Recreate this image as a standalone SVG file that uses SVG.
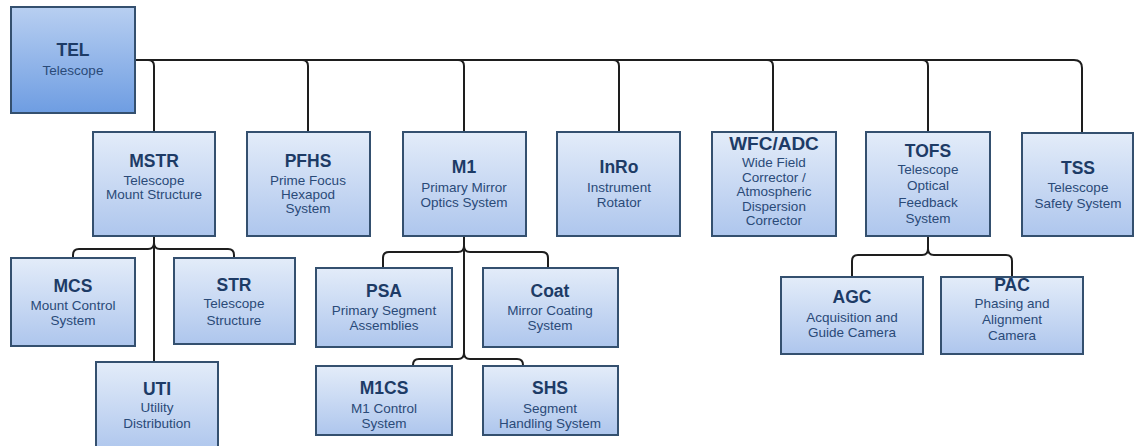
<svg xmlns="http://www.w3.org/2000/svg" width="1134" height="446" viewBox="0 0 1134 446">
<defs>
<linearGradient id="gNode" x1="0" y1="0" x2="0" y2="1">
<stop offset="0" stop-color="#e3ecf9"/>
<stop offset="1" stop-color="#aec6ed"/>
</linearGradient>
<linearGradient id="gRoot" x1="0" y1="0" x2="0" y2="1">
<stop offset="0" stop-color="#b8cff1"/>
<stop offset="1" stop-color="#6e9de2"/>
</linearGradient>
</defs>
<style>
.box{fill:url(#gNode);stroke:#34506f;stroke-width:2}
.root{fill:url(#gRoot);stroke:#34506f;stroke-width:2}
.t{font-family:"Liberation Sans",Arial,sans-serif;font-weight:bold;font-size:17.5px;fill:#1d3b66;text-anchor:middle}
.s{font-family:"Liberation Sans",Arial,sans-serif;font-size:13.5px;fill:#2a4a78;text-anchor:middle}
.c{fill:none;stroke:#1e1e1e;stroke-width:2}
</style>
<rect width="1134" height="446" fill="#ffffff"/>
<g id="connectors">
<path class="c" d="M135,60 H148 Q154,60 154,66 V132"/>
<path class="c" d="M135,60 H302 Q308,60 308,66 V132"/>
<path class="c" d="M135,60 H458 Q464,60 464,66 V132"/>
<path class="c" d="M135,60 H613 Q619,60 619,66 V132"/>
<path class="c" d="M135,60 H767 Q773,60 773,66 V132"/>
<path class="c" d="M135,60 H922 Q928,60 928,66 V132"/>
<path class="c" d="M135,60 H1074 Q1082,60 1082,68 V133"/>
<path class="c" d="M154,236 V243 Q154,249 148,249 H79 Q73,249 73,255 V258"/>
<path class="c" d="M154,236 V243 Q154,249 160,249 H228 Q234,249 234,255 V258"/>
<path class="c" d="M154,236 V362"/>
<path class="c" d="M464,236 V246 Q464,252 458,252 H389 Q383,252 383,258 V268"/>
<path class="c" d="M464,236 V246 Q464,252 470,252 H542 Q548,252 548,258 V268"/>
<path class="c" d="M464,236 V353 Q464,359 458,359 H419 Q413,359 413,365 V366"/>
<path class="c" d="M464,353 Q464,359 470,359 H517 Q523,359 523,365 V366"/>
<path class="c" d="M928,236 V249 Q928,255 922,255 H858 Q852,255 852,261 V277"/>
<path class="c" d="M928,249 Q928,255 934,255 H1006 Q1012,255 1012,261 V277"/>
</g>
<g id="TEL">
<rect class="root" x="11" y="7" width="124" height="106"/>
<text class="t" x="73" y="56">TEL</text>
<text class="s" x="73" y="75">Telescope</text>
</g>
<g id="MSTR">
<rect class="box" x="93" y="132" width="122" height="104"/>
<text class="t" x="154" y="167">MSTR</text>
<text class="s" x="154" y="185">Telescope</text>
<text class="s" x="154" y="199">Mount Structure</text>
</g>
<g id="PFHS">
<rect class="box" x="247" y="132" width="123" height="104"/>
<text class="t" x="308" y="167">PFHS</text>
<text class="s" x="308" y="185">Prime Focus</text>
<text class="s" x="308" y="199">Hexapod</text>
<text class="s" x="308" y="213">System</text>
</g>
<g id="M1">
<rect class="box" x="403" y="132" width="123" height="104"/>
<text class="t" x="464" y="173">M1</text>
<text class="s" x="464" y="192">Primary Mirror</text>
<text class="s" x="464" y="207">Optics System</text>
</g>
<g id="InRo">
<rect class="box" x="557" y="132" width="123" height="104"/>
<text class="t" x="619" y="173">InRo</text>
<text class="s" x="619" y="192">Instrument</text>
<text class="s" x="619" y="207">Rotator</text>
</g>
<g id="WFC_ADC">
<rect class="box" x="712" y="132" width="124" height="104"/>
<text class="t" x="774" y="150" style="font-size:19px">WFC/ADC</text>
<text class="s" x="774" y="167">Wide Field</text>
<text class="s" x="774" y="182">Corrector /</text>
<text class="s" x="774" y="196">Atmospheric</text>
<text class="s" x="774" y="211">Dispersion</text>
<text class="s" x="774" y="225">Corrector</text>
</g>
<g id="TOFS">
<rect class="box" x="866" y="132" width="124" height="104"/>
<text class="t" x="928" y="157">TOFS</text>
<text class="s" x="928" y="174">Telescope</text>
<text class="s" x="928" y="190">Optical</text>
<text class="s" x="928" y="207">Feedback</text>
<text class="s" x="928" y="223">System</text>
</g>
<g id="TSS">
<rect class="box" x="1022" y="133" width="111" height="103"/>
<text class="t" x="1078" y="174">TSS</text>
<text class="s" x="1078" y="192">Telescope</text>
<text class="s" x="1078" y="208">Safety System</text>
</g>
<g id="MCS">
<rect class="box" x="11" y="258" width="124" height="88"/>
<text class="t" x="73" y="292">MCS</text>
<text class="s" x="73" y="310">Mount Control</text>
<text class="s" x="73" y="325">System</text>
</g>
<g id="STR">
<rect class="box" x="174" y="258" width="121" height="86"/>
<text class="t" x="234" y="291">STR</text>
<text class="s" x="234" y="308">Telescope</text>
<text class="s" x="234" y="325">Structure</text>
</g>
<g id="UTI">
<rect class="box" x="96" y="362" width="122" height="90"/>
<text class="t" x="157" y="395">UTI</text>
<text class="s" x="157" y="412">Utility</text>
<text class="s" x="157" y="428">Distribution</text>
</g>
<g id="PSA">
<rect class="box" x="316" y="268" width="136" height="79"/>
<text class="t" x="384" y="297">PSA</text>
<text class="s" x="384" y="315">Primary Segment</text>
<text class="s" x="384" y="330">Assemblies</text>
</g>
<g id="Coat">
<rect class="box" x="483" y="268" width="135" height="79"/>
<text class="t" x="550" y="297">Coat</text>
<text class="s" x="550" y="315">Mirror Coating</text>
<text class="s" x="550" y="330">System</text>
</g>
<g id="M1CS">
<rect class="box" x="316" y="366" width="136" height="69"/>
<text class="t" x="384" y="394">M1CS</text>
<text class="s" x="384" y="413">M1 Control</text>
<text class="s" x="384" y="428">System</text>
</g>
<g id="SHS">
<rect class="box" x="483" y="366" width="135" height="69"/>
<text class="t" x="550" y="394">SHS</text>
<text class="s" x="550" y="413">Segment</text>
<text class="s" x="550" y="428">Handling System</text>
</g>
<g id="AGC">
<rect class="box" x="781" y="277" width="142" height="77"/>
<text class="t" x="852" y="303">AGC</text>
<text class="s" x="852" y="322">Acquisition and</text>
<text class="s" x="852" y="337">Guide Camera</text>
</g>
<g id="PAC">
<rect class="box" x="941" y="277" width="142" height="77"/>
<text class="t" x="1012" y="291">PAC</text>
<text class="s" x="1012" y="308">Phasing and</text>
<text class="s" x="1012" y="324">Alignment</text>
<text class="s" x="1012" y="340">Camera</text>
</g>
</svg>
